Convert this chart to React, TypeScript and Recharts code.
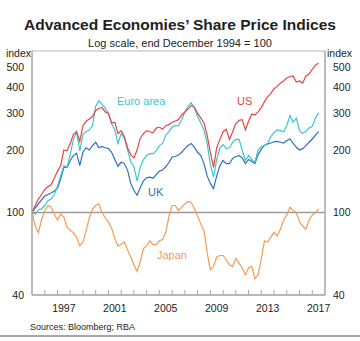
import { LineChart, Line, XAxis, YAxis, CartesianGrid, ReferenceLine } from "recharts";

// quarterly readings, end Dec 1994 = 100 (first point), last point mid 2017
const US = [
  100, 108, 116, 122, 129, 133, 136, 146, 158, 168, 200, 198, 215, 238, 245, 220,
  262, 275, 282, 290, 310, 318, 320, 305, 300, 270, 272, 240, 248, 232, 205, 190,
  183, 200, 228, 240, 248, 245, 242, 255, 258, 252, 262, 265, 272, 276, 280, 295,
  305, 315, 328, 322, 300, 285, 270, 235, 195, 165, 205, 225, 245, 252, 225, 245,
  268, 278, 280, 250, 275, 298, 295, 305, 320, 342, 362, 375, 395, 405, 420, 430,
  445, 452, 455, 425, 430, 420, 455, 465, 490, 512, 526,
];
const EURO = [
  100, 98, 103, 104, 108, 114, 116, 122, 134, 150, 168, 165, 190, 225, 245, 198,
  238, 245, 250, 262, 325, 345, 332, 318, 300, 268, 250, 215, 240, 228, 200, 176,
  166, 142, 165, 180, 188, 192, 192, 198, 210, 215, 235, 245, 258, 262, 262, 280,
  305, 325, 338, 318, 290, 270, 250, 215, 170, 148, 180, 205, 212, 203, 205, 218,
  225, 225, 200, 178, 188, 180, 175, 200, 208, 210, 215, 232, 243, 250, 248, 245,
  262, 293, 272, 285, 248, 240, 246, 255, 260, 285, 302,
];
const UK = [
  100, 105, 110, 115, 120, 122, 124, 127, 131, 145, 165, 165, 178, 188, 193, 168,
  195, 205, 200, 210, 218, 205, 208, 205, 203, 195, 180, 167, 175, 172, 160, 138,
  128, 121, 132, 142, 147, 148, 146, 152, 158, 160, 166, 174, 185, 186, 189, 195,
  203, 210, 215, 206, 195, 188, 172, 150, 138, 130, 150, 168, 178, 172, 172, 182,
  186, 188, 183, 172, 180, 176, 172, 190, 202, 211, 214, 216, 219, 220, 218, 216,
  222, 226, 215, 206, 200, 203, 210, 218, 226, 236, 245,
];
const JAPAN = [
  100, 86, 80, 92, 102, 108, 106, 98, 92, 98, 95, 85, 82, 80, 76, 69,
  72, 82, 94, 104, 108, 110, 100, 94, 90, 84, 75, 69, 70, 72, 66, 61,
  56, 52, 58, 67, 69, 73, 70, 70, 73, 74, 80, 96, 108, 108, 102, 106,
  110, 113, 112, 104, 96, 88, 82, 64, 53, 55, 61, 62, 62, 59, 56, 55,
  60, 57, 54, 50, 54, 55, 48, 50, 60, 73, 72, 76, 80, 77, 83, 92,
  97, 106, 102, 100, 90, 86, 83, 92, 97, 100, 104,
];
const Y_TICKS = [40, 100, 200, 300, 400, 500];
const YEAR_TICKS = [
  1996, 1997, 1998, 1999, 2000, 2001, 2002, 2003, 2004, 2005, 2006,
  2007, 2008, 2009, 2010, 2011, 2012, 2013, 2014, 2015, 2016, 2017,
];
const YEAR_LABELS = [1997, 2001, 2005, 2009, 2013, 2017];

const data = US.map((us, i) => ({
  t: 1995 + i / 4,
  us,
  euro: EURO[i],
  uk: UK[i],
  japan: JAPAN[i],
}));

const FONT = "Arial, 'Liberation Sans', sans-serif";
const AXIS = "#a6a6a6";
const TEXT = "#222";
const HALF_YEAR = (325 - 32) / 23 / 2;

function YearTick(props: any) {
  const { x, y, payload } = props;
  const yr = payload.value;
  return (
    <g>
      <line x1={x} x2={x} y1={y} y2={y - 5} stroke={AXIS} strokeWidth={1} />
      {YEAR_LABELS.includes(yr) && (
        <text x={x + HALF_YEAR} y={y + 17} textAnchor="middle" fontSize={10.5} fill={TEXT} fontFamily={FONT}>
          {yr}
        </text>
      )}
    </g>
  );
}

const abs = (o: any) => ({ position: "absolute" as const, fontFamily: FONT, color: TEXT, whiteSpace: "nowrap" as const, ...o });

export default function App() {
  const yTick = { fill: TEXT, fontSize: 10.5, fontFamily: FONT };
  return (
    <div style={{ position: "absolute", left: 0, top: 0, width: 360, height: 341, background: "#fff", overflow: "hidden" }}>
      <div style={abs({ top: 16, left: 0, width: 360, textAlign: "center", fontSize: 15.5, fontWeight: "bold", lineHeight: "18px" })}>
        Advanced Economies’ Share Price Indices
      </div>
      <div style={abs({ top: 37, left: 0, width: 360, textAlign: "center", fontSize: 11, lineHeight: "13px" })}>
        Log scale, end December 1994 = 100
      </div>
      <div style={abs({ top: 48, left: 0, width: 31, textAlign: "right", fontSize: 10.5, lineHeight: "11px" })}>index</div>
      <div style={abs({ top: 48, left: 327, fontSize: 10.5, lineHeight: "11px" })}>index</div>

      <LineChart width={360} height={341} data={data} margin={{ top: 51, right: 0, bottom: 0, left: 0 }}>
        <CartesianGrid vertical={false} stroke="#d9d9d9" strokeWidth={1} />
        <XAxis
          dataKey="t"
          type="number"
          domain={[1995, 2018]}
          ticks={YEAR_TICKS}
          interval={0}
          height={46}
          tickLine={false}
          tickSize={0}
          tickMargin={0}
          axisLine={{ stroke: AXIS, strokeWidth: 1.5 }}
          tick={<YearTick />}
        />
        <YAxis
          yAxisId="left"
          scale="log"
          type="number"
          domain={[40, 600]}
          allowDataOverflow
          ticks={Y_TICKS}
          interval={0}
          width={32}
          tickLine={false}
          tickMargin={2}
          axisLine={{ stroke: AXIS, strokeWidth: 1.5 }}
          tick={yTick}
        />
        <YAxis
          yAxisId="right"
          orientation="right"
          scale="log"
          type="number"
          domain={[40, 600]}
          allowDataOverflow
          ticks={Y_TICKS}
          interval={0}
          width={35}
          tickLine={false}
          tickMargin={2}
          axisLine={{ stroke: AXIS, strokeWidth: 1.5 }}
          tick={yTick}
        />
        <ReferenceLine yAxisId="left" y={600} stroke="#c8c8c8" strokeWidth={1} />
        <ReferenceLine yAxisId="left" y={100} stroke="#9a9a9a" strokeWidth={1.5} />
        <Line yAxisId="right" dataKey="japan" stroke="#f79a52" strokeWidth={1.2} dot={false} isAnimationActive={false} />
        <Line yAxisId="left" dataKey="uk" stroke="#2f6fc0" strokeWidth={1.2} dot={false} isAnimationActive={false} />
        <Line yAxisId="left" dataKey="euro" stroke="#3cc6d0" strokeWidth={1.2} dot={false} isAnimationActive={false} />
        <Line yAxisId="left" dataKey="us" stroke="#e84444" strokeWidth={1.2} dot={false} isAnimationActive={false} />
      </LineChart>

      <div style={abs({ top: 95, left: 117, fontSize: 11, lineHeight: "13px", color: "#3cc6d0" })}>Euro area</div>
      <div style={abs({ top: 95, left: 237, fontSize: 11, lineHeight: "13px", color: "#e84444" })}>US</div>
      <div style={abs({ top: 186, left: 148, fontSize: 11, lineHeight: "13px", color: "#2f6fc0" })}>UK</div>
      <div style={abs({ top: 249, left: 157, fontSize: 11, lineHeight: "13px", color: "#f79a52" })}>Japan</div>

      <div style={abs({ top: 321, left: 30, fontSize: 9, lineHeight: "12px" })}>Sources: Bloomberg; RBA</div>
      <div style={{ position: "absolute", top: 335, left: 0, width: 360, height: 2, background: AXIS }} />
    </div>
  );
}
